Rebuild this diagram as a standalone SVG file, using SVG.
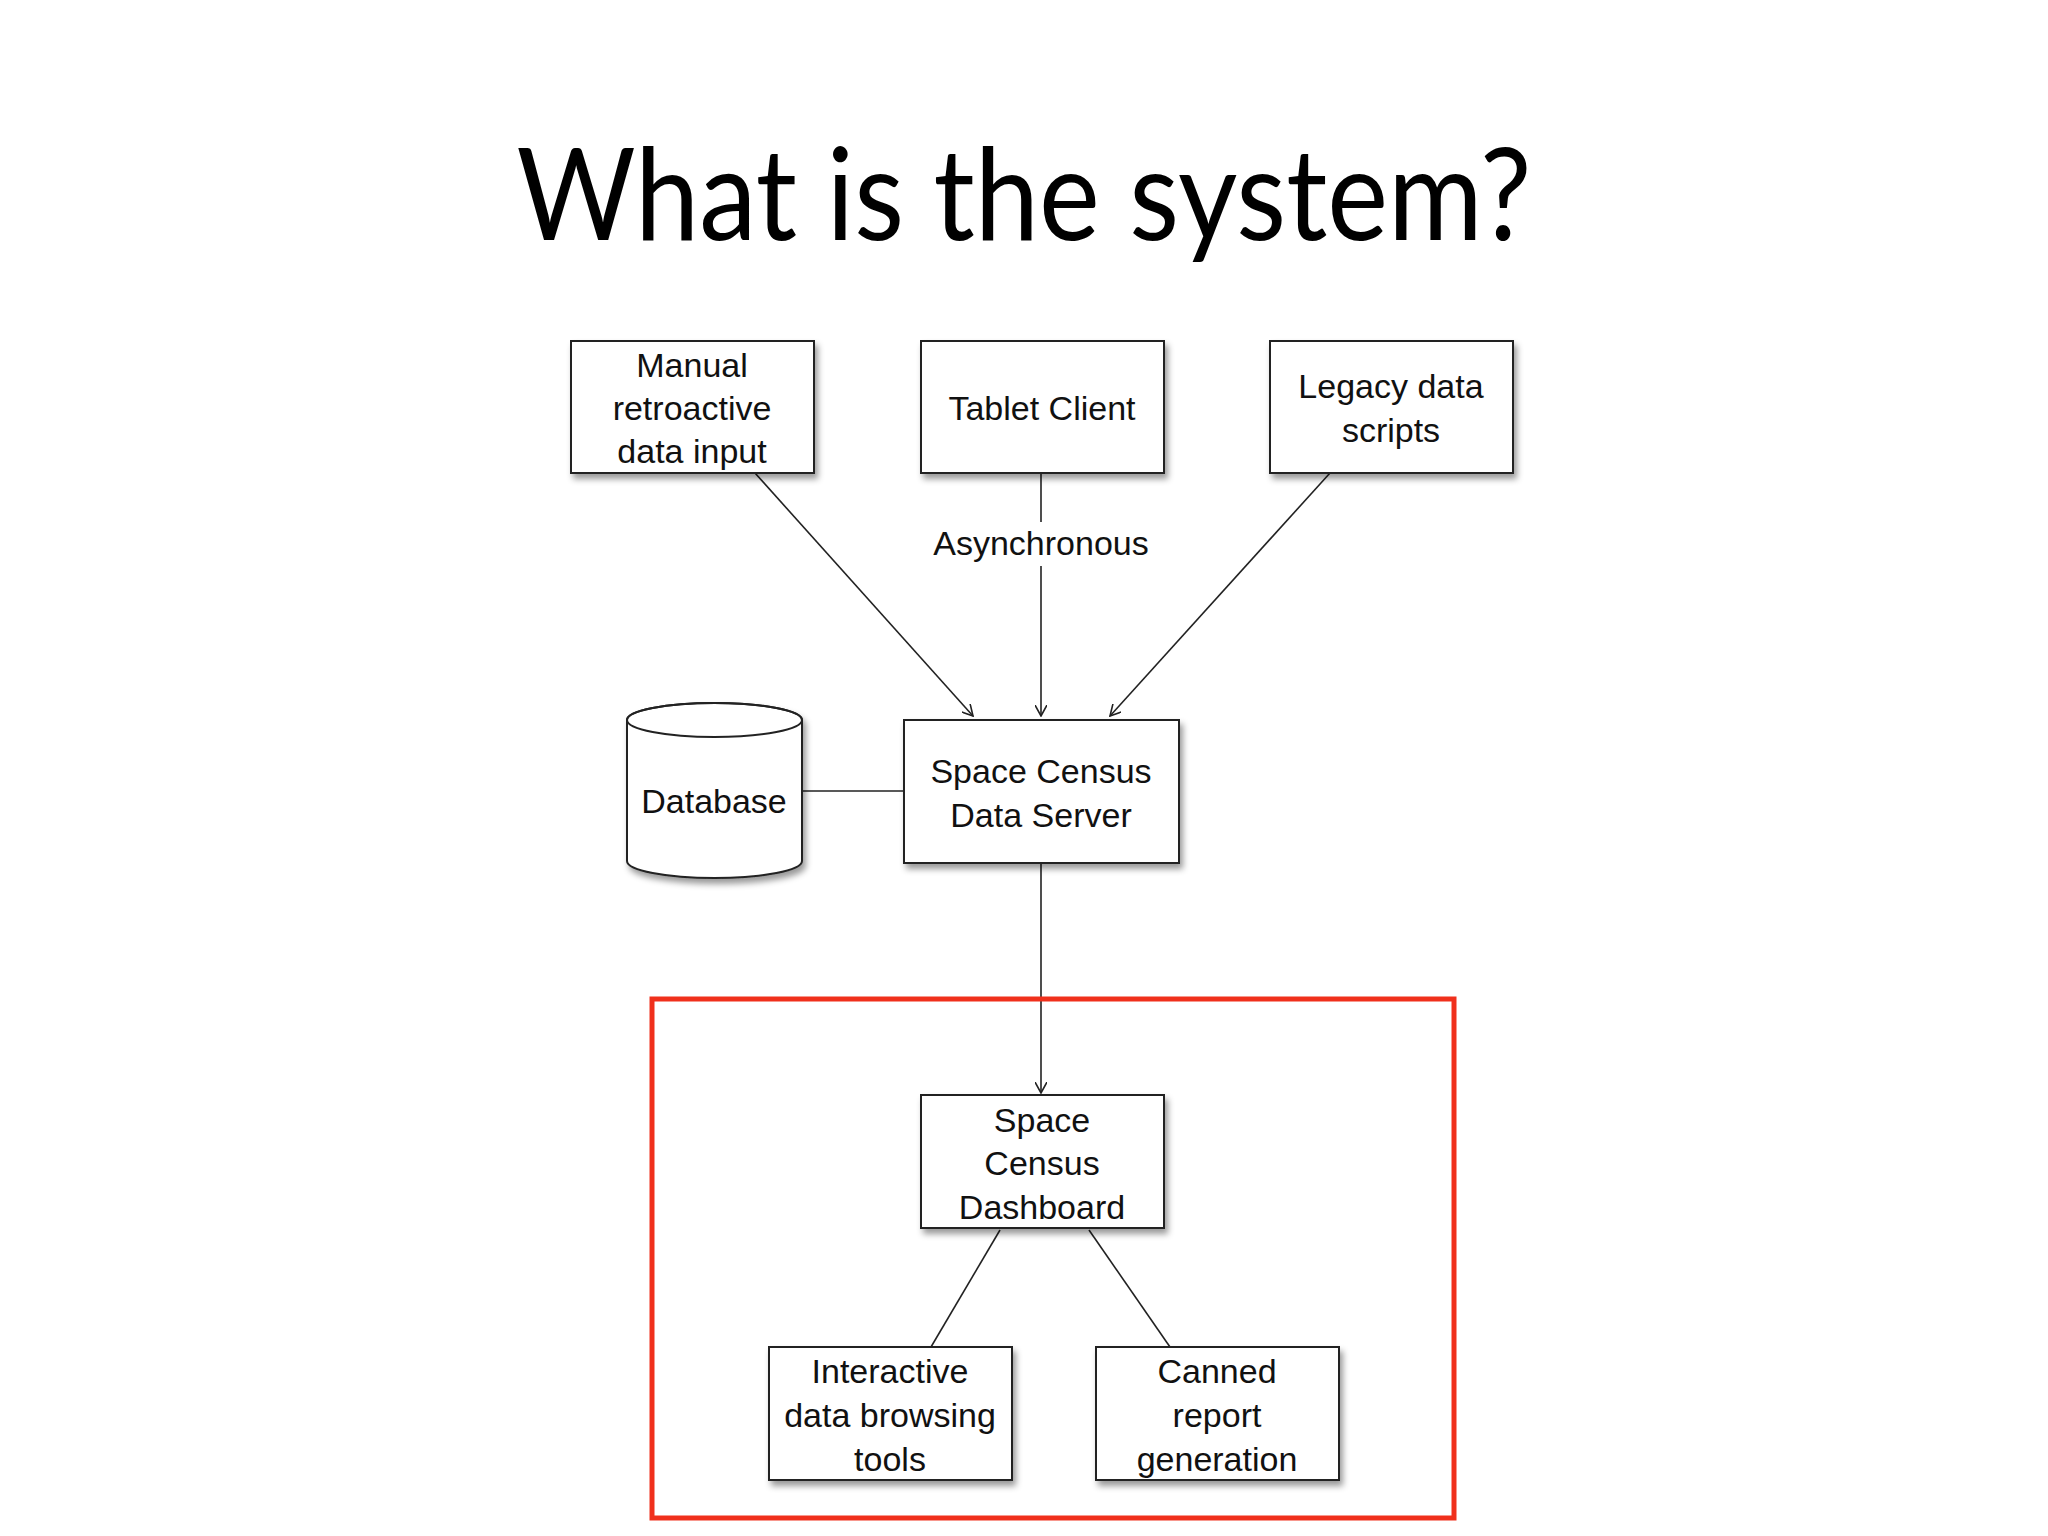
<svg xmlns="http://www.w3.org/2000/svg" width="2048" height="1536" viewBox="0 0 2048 1536">
<style>
.box{fill:#fff;stroke:#222;stroke-width:2;filter:url(#sh)}
.t{font-family:"Liberation Sans",Arial,sans-serif;font-size:34px;fill:#111;text-anchor:middle}
.c{stroke:#222;stroke-width:1.6;fill:none}
</style>
<defs>
<filter id="sh" x="-10%" y="-10%" width="130%" height="130%"><feDropShadow dx="3" dy="5" stdDeviation="3" flood-color="#000" flood-opacity="0.4"/></filter>
<marker id="a" viewBox="0 0 12 12" refX="11" refY="6" markerWidth="12" markerHeight="12" markerUnits="userSpaceOnUse" orient="auto"><path d="M0,0 L11,6 L0,12" fill="none" stroke="#222" stroke-width="1.6"/></marker>
</defs>
<rect width="2048" height="1536" fill="#fff"/>
<text x="1024" y="240" font-family="Lato,'Open Sans',sans-serif" font-size="128" text-anchor="middle" fill="#000" textLength="1015" lengthAdjust="spacingAndGlyphs">What is the system?</text>
<g id="connectors">
<line class="c" x1="755" y1="473" x2="973" y2="716" marker-end="url(#a)"/>
<line class="c" x1="1041" y1="473" x2="1041" y2="522"/>
<line class="c" x1="1041" y1="566" x2="1041" y2="716" marker-end="url(#a)"/>
<text class="t" x="1041" y="555" font-size="30">Asynchronous</text>
<line class="c" x1="1330" y1="473" x2="1110" y2="716" marker-end="url(#a)"/>
<line class="c" x1="802" y1="791" x2="904" y2="791"/>
<line class="c" x1="1041" y1="863" x2="1041" y2="1093" marker-end="url(#a)"/>
<line class="c" x1="1000" y1="1230" x2="931" y2="1347"/>
<line class="c" x1="1089" y1="1230" x2="1170" y2="1347"/>
</g>
<g id="manual"><rect class="box" x="571" y="341" width="243" height="132"/><text class="t" x="692" y="377">Manual</text><text class="t" x="692" y="420">retroactive</text><text class="t" x="692" y="463">data input</text></g>
<g id="tablet"><rect class="box" x="921" y="341" width="243" height="132"/><text class="t" x="1042" y="420">Tablet Client</text></g>
<g id="legacy"><rect class="box" x="1270" y="341" width="243" height="132"/><text class="t" x="1391" y="398">Legacy data</text><text class="t" x="1391" y="442">scripts</text></g>
<g id="server"><rect class="box" x="904" y="720" width="275" height="143"/><text class="t" x="1041" y="783">Space Census</text><text class="t" x="1041" y="827">Data Server</text></g>
<g id="database"><path class="box" d="M627,720 A87.5,17 0 0 1 802,720 V861 A87.5,17 0 0 1 627,861 Z"/><ellipse cx="714.5" cy="720" rx="87.5" ry="17" fill="none" stroke="#222" stroke-width="2"/><text class="t" x="714" y="813">Database</text></g>
<g id="dashboard"><rect class="box" x="921" y="1095" width="243" height="133"/><text class="t" x="1042" y="1132">Space</text><text class="t" x="1042" y="1175">Census</text><text class="t" x="1042" y="1219">Dashboard</text></g>
<g id="interactive"><rect class="box" x="769" y="1347" width="243" height="133"/><text class="t" x="890" y="1383">Interactive</text><text class="t" x="890" y="1427">data browsing</text><text class="t" x="890" y="1471">tools</text></g>
<g id="canned"><rect class="box" x="1096" y="1347" width="243" height="133"/><text class="t" x="1217" y="1383">Canned</text><text class="t" x="1217" y="1427">report</text><text class="t" x="1217" y="1471">generation</text></g>
<rect id="highlight" x="652" y="999" width="802" height="519" fill="none" stroke="#f0301c" stroke-width="5"/>
</svg>
